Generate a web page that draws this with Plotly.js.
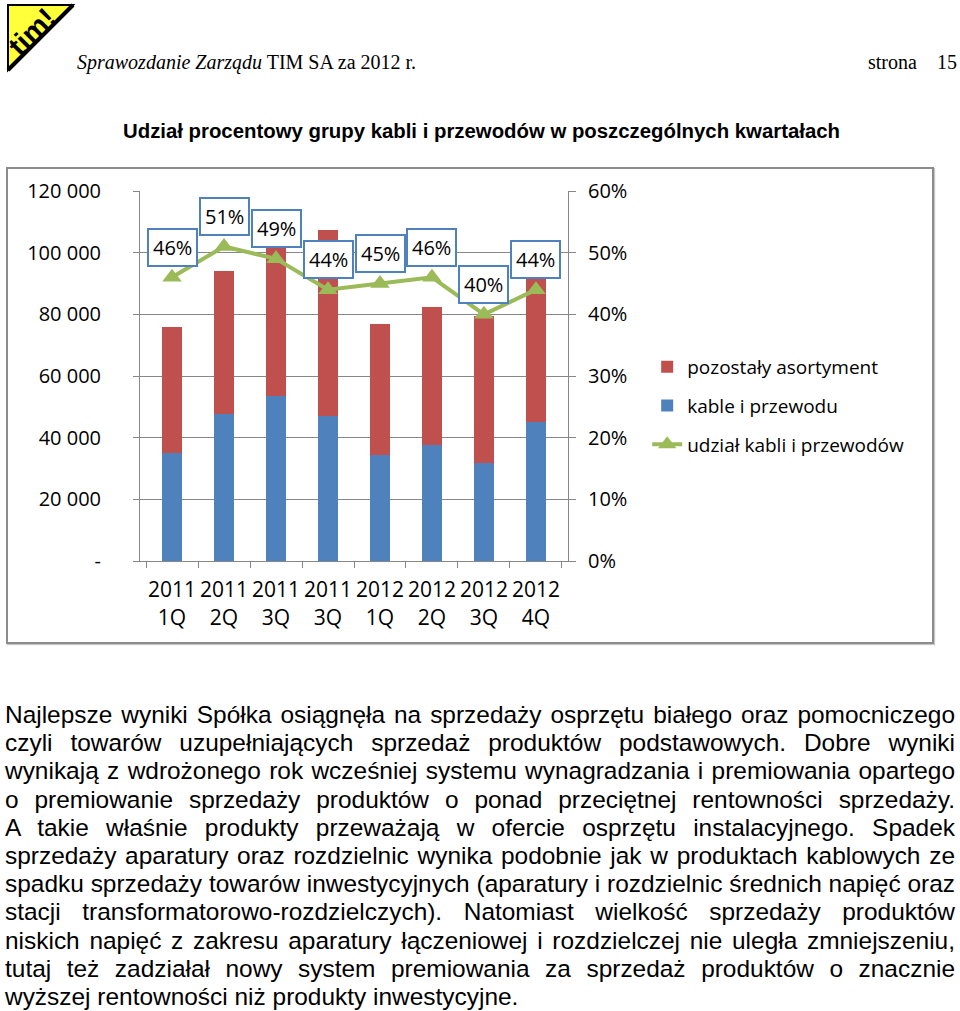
<!DOCTYPE html>
<html>
<head>
<meta charset="utf-8">
<script src="https://cdn.plot.ly/plotly-3.0.1.min.js"></script>
<style>
  html, body { margin:0; padding:0; background:#fff; }
  body { width:960px; height:1011px; position:relative; overflow:hidden; }
  .abs { position:absolute; white-space:nowrap; }
  .hdr { font-family:"Liberation Serif", serif; font-size:20px; line-height:20px; color:#000; }
  #title { font-family:"Liberation Sans", Arial, sans-serif; font-weight:bold; font-size:20px; line-height:24px; transform-origin:0 0; }
  #box { position:absolute; left:6px; top:167px; width:924px; height:473px; border:2px solid #8c8c8c; box-shadow:1px 1px 1px #c8c8c8; }
  #chart { position:absolute; left:0; top:0; width:924px; height:473px; }
  .pl { position:absolute; left:5px; font-family:"Liberation Sans", Arial, sans-serif; font-size:20px; line-height:28px; white-space:nowrap; color:#000; }
</style>
</head>
<body>
<svg class="abs" style="left:0;top:0" width="80" height="76" viewBox="0 0 80 76">
  <polygon points="8,5 73,5 8,70" fill="#ffff3a" stroke="#000" stroke-width="2"/>
  <line x1="73" y1="5" x2="8" y2="70" stroke="#000" stroke-width="4"/>
  <text x="0" y="0" transform="translate(39,39) rotate(-45)" text-anchor="middle" font-family="Liberation Sans, Arial" font-weight="bold" font-size="29" fill="#000">tim!</text>
</svg>
<div class="abs hdr" style="left:77px;top:52px;"><i>Sprawozdanie Zarządu</i> TIM SA za 2012 r.</div>
<div class="abs hdr" style="left:868px;top:52px;">strona</div>
<div class="abs hdr" style="left:937px;top:52px;">15</div>
<div class="abs" id="title" style="left:123px;top:119px;">Udział procentowy grupy kabli i przewodów w poszczególnych kwartałach</div>

<div id="box"><div id="chart"></div></div>

<div id="para"></div>

<script>
// ---- data ----
const quarterIds = ["2011-1Q", "2011-2Q", "2011-3Q", "2011-4Q", "2012-1Q", "2012-2Q", "2012-3Q", "2012-4Q"];
const quarterLabels = ["2011<br>1Q", "2011<br>2Q", "2011<br>3Q", "2011<br>3Q", "2012<br>1Q", "2012<br>2Q", "2012<br>3Q", "2012<br>4Q"];
const kablePrzewody = [35000, 47700, 53500, 47000, 34500, 37700, 31800, 45000];
const pozostalyAsortyment = [41000, 46300, 55500, 60500, 42500, 44800, 47700, 57000];
const udzialKabli = [0.46, 0.51, 0.49, 0.44, 0.45, 0.46, 0.40, 0.44];
const leftTickVals = [0, 20000, 40000, 60000, 80000, 100000, 120000];
const leftTickText = ["-", "20 000", "40 000", "60 000", "80 000", "100 000", "120 000"];
const rightTickVals = [0, 0.1, 0.2, 0.3, 0.4, 0.5, 0.6];
const seriesNames = ["pozostały asortyment", "kable i przewodu", "udział kabli i przewodów"];

const RED = "#C0504D", BLUE = "#4F81BD", GREEN = "#9BBB59", GRID = "#878787";
const FONT = "'Open Sans', 'Noto Sans', sans-serif";

const traces = [
  { type:"bar", x:quarterIds, y:kablePrzewody, name:seriesNames[1], marker:{color:BLUE},
    legendrank:2, legendgroup:"b", hoverinfo:"skip" },
  { type:"bar", x:quarterIds, y:pozostalyAsortyment, name:seriesNames[0], marker:{color:RED},
    legendrank:1, legendgroup:"a", hoverinfo:"skip" },
  { type:"scatter", mode:"lines+markers", x:quarterIds, y:udzialKabli, yaxis:"y2", name:seriesNames[2],
    line:{color:GREEN, width:4}, marker:{symbol:"triangle-up", size:17, color:GREEN},
    legendrank:3, legendgroup:"c", hoverinfo:"skip" }
];

const annotations = udzialKabli.map((v, i) => ({
  x: quarterIds[i], y: v, xref:"x", yref:"y2",
  text: Math.round(v * 100) + "%", showarrow:false, yshift:30,
  bgcolor:"#ffffff", bordercolor:BLUE, borderwidth:2, borderpad:4,
  font:{family:FONT, size:20, color:"#000"}
}));

const layout = {
  width:924, height:473,
  margin:{l:132, r:364, t:22, b:81},
  paper_bgcolor:"rgba(0,0,0,0)", plot_bgcolor:"rgba(0,0,0,0)",
  barmode:"stack", bargap:0.6,
  font:{family:FONT, size:20, color:"#000"},
  showlegend:true,
  legend:{x:1.185, xanchor:"left", y:0.576, yanchor:"top", traceorder:"grouped",
          tracegroupgap:11, font:{family:FONT, size:19, color:"#000"}, bgcolor:"rgba(0,0,0,0)"},
  xaxis:{type:"category", tickmode:"array", tickvals:quarterIds, ticktext:quarterLabels,
         tickson:"boundaries", ticks:"outside", ticklen:6, tickcolor:GRID, tickwidth:1, tickangle:0,
         showline:true, linecolor:GRID, linewidth:1, showgrid:false, zeroline:false,
         tickfont:{family:FONT, size:21}, ticklabelstandoff:10},
  yaxis:{range:[0,120000], tickmode:"array", tickvals:leftTickVals, ticktext:leftTickText,
         showgrid:true, gridcolor:GRID, gridwidth:1, showline:true, linecolor:GRID,
         ticks:"outside", ticklen:6, tickcolor:GRID, zeroline:false,
         tickfont:{family:FONT, size:20}, ticklabelstandoff:28},
  yaxis2:{overlaying:"y", side:"right", range:[0,0.6], tickmode:"array", tickvals:rightTickVals,
          tickformat:".0%", showgrid:false, showline:true, linecolor:GRID, ticks:"outside",
          ticklen:7, tickcolor:GRID, zeroline:false, tickfont:{family:FONT, size:20}, ticklabelstandoff:8},
  annotations: annotations
};

Plotly.newPlot("chart", traces, layout, {staticPlot:true, displayModeBar:false});

// ---- page text ----
const paraLines = [
  "Najlepsze wyniki Spółka osiągnęła na sprzedaży osprzętu białego oraz pomocniczego",
  "czyli towarów uzupełniających sprzedaż produktów podstawowych. Dobre wyniki",
  "wynikają z wdrożonego rok wcześniej systemu wynagradzania i premiowania opartego",
  "o premiowanie sprzedaży produktów o ponad przeciętnej rentowności sprzedaży.",
  "A takie właśnie produkty przeważają w ofercie osprzętu instalacyjnego. Spadek",
  "sprzedaży aparatury oraz rozdzielnic wynika podobnie jak w produktach kablowych ze",
  "spadku sprzedaży towarów inwestycyjnych (aparatury i rozdzielnic średnich napięć oraz",
  "stacji transformatorowo-rozdzielczych). Natomiast wielkość sprzedaży produktów",
  "niskich napięć z zakresu aparatury łączeniowej i rozdzielczej nie uległa zmniejszeniu,",
  "tutaj też zadziałał nowy system premiowania za sprzedaż produktów o znacznie",
  "wyższej rentowności niż produkty inwestycyjne."
];
const para = document.getElementById("para");
const BASE = 20;
const els = paraLines.map((t, i) => {
  const d = document.createElement("div");
  d.className = "pl";
  d.style.top = (701 + i * 28.2) + "px";
  d.textContent = t;
  para.appendChild(d);
  return d;
});
const W = 950;
let widths = els.map(e => e.getBoundingClientRect().width);
let s = Infinity;
for (let i = 0; i < els.length - 1; i++) s = Math.min(s, W / widths[i]);
const fs = BASE * s;
els.forEach(e => { e.style.fontSize = fs + "px"; });
widths = els.map(e => e.getBoundingClientRect().width);
els.forEach((e, i) => {
  if (i < els.length - 1) {
    const spaces = (paraLines[i].match(/ /g) || []).length;
    e.style.wordSpacing = ((W - widths[i]) / spaces) + "px";
  }
});
// title: condensed bold, fitted to reference width
const ti = document.getElementById("title");
const tw = ti.getBoundingClientRect().width;
ti.style.transform = "scaleX(" + (717 / tw) + ")";
</script>
</body>
</html>
